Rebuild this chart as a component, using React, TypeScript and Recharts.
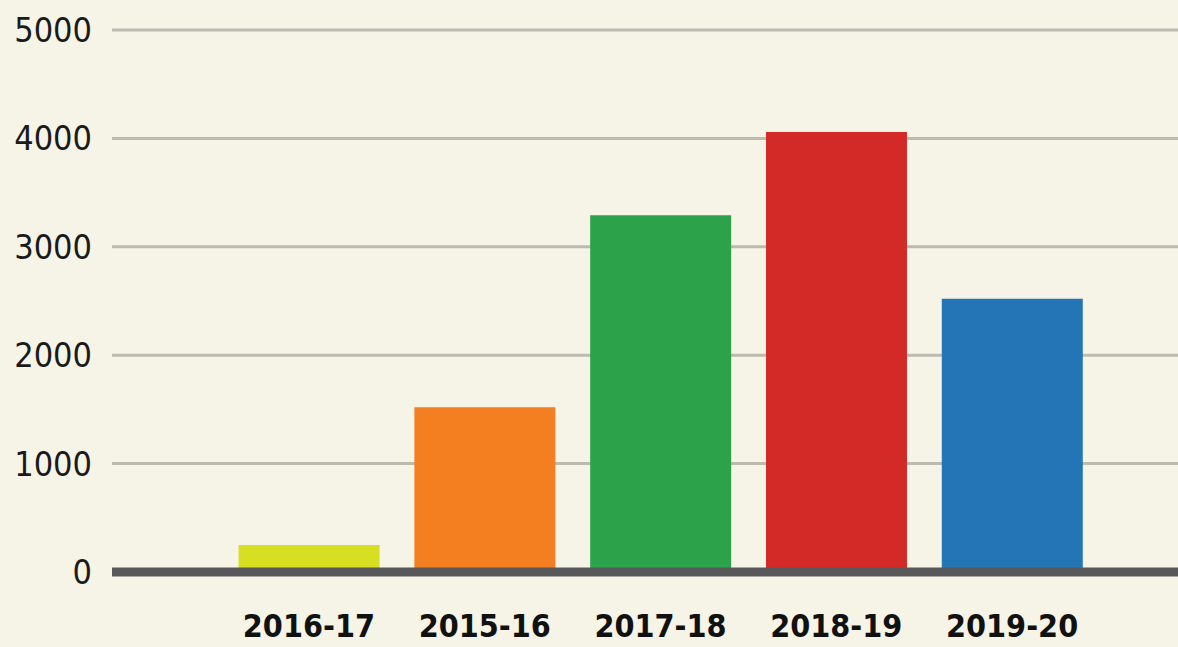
import { BarChart, Bar, XAxis, YAxis, CartesianGrid, ReferenceLine, Cell } from 'recharts';

// values
const years = ['2016-17', '2015-16', '2017-18', '2018-19', '2019-20'];
const amounts = [250, 1520, 3290, 4060, 2520];
const barColors = ['#d6df22', '#f47f20', '#2ca24a', '#d42a27', '#2375b6'];
const yTicks = [0, 1000, 2000, 3000, 4000, 5000];

const FONT = '"DejaVu Sans Condensed", "Liberation Sans Narrow", sans-serif';

export default function App() {
  const chartData = years.map((year, i) => ({ year, value: amounts[i] }));

  return (
    <div style={{ position: 'fixed', left: 0, top: 0, width: 1178, height: 647, background: '#f6f4e6' }}>
      <BarChart
        width={1178}
        height={647}
        data={chartData}
        margin={{ top: 30, right: 0, bottom: 0, left: 0 }}
        barCategoryGap="10%"
      >
        <CartesianGrid vertical={false} stroke="#bdbbb1" strokeWidth={3} />
        <XAxis
          dataKey="year"
          height={75}
          axisLine={false}
          tickLine={false}
          tickSize={0}
          tickMargin={42}
          padding={{ left: 109, right: 78 }}
          tick={{ fill: '#111', fontSize: 32, fontWeight: 700, fontFamily: FONT }}
        />
        <YAxis
          width={112}
          domain={[0, 5000]}
          ticks={yTicks}
          axisLine={false}
          tickLine={false}
          tickSize={0}
          tickMargin={20}
          tick={{ fill: '#1a1a1a', fontSize: 34, fontFamily: FONT }}
        />
        <Bar dataKey="value" isAnimationActive={false}>
          {chartData.map((entry, i) => (
            <Cell key={entry.year} fill={barColors[i]} />
          ))}
        </Bar>
        <ReferenceLine y={0} stroke="#58585a" strokeWidth={9} />
      </BarChart>
    </div>
  );
}
